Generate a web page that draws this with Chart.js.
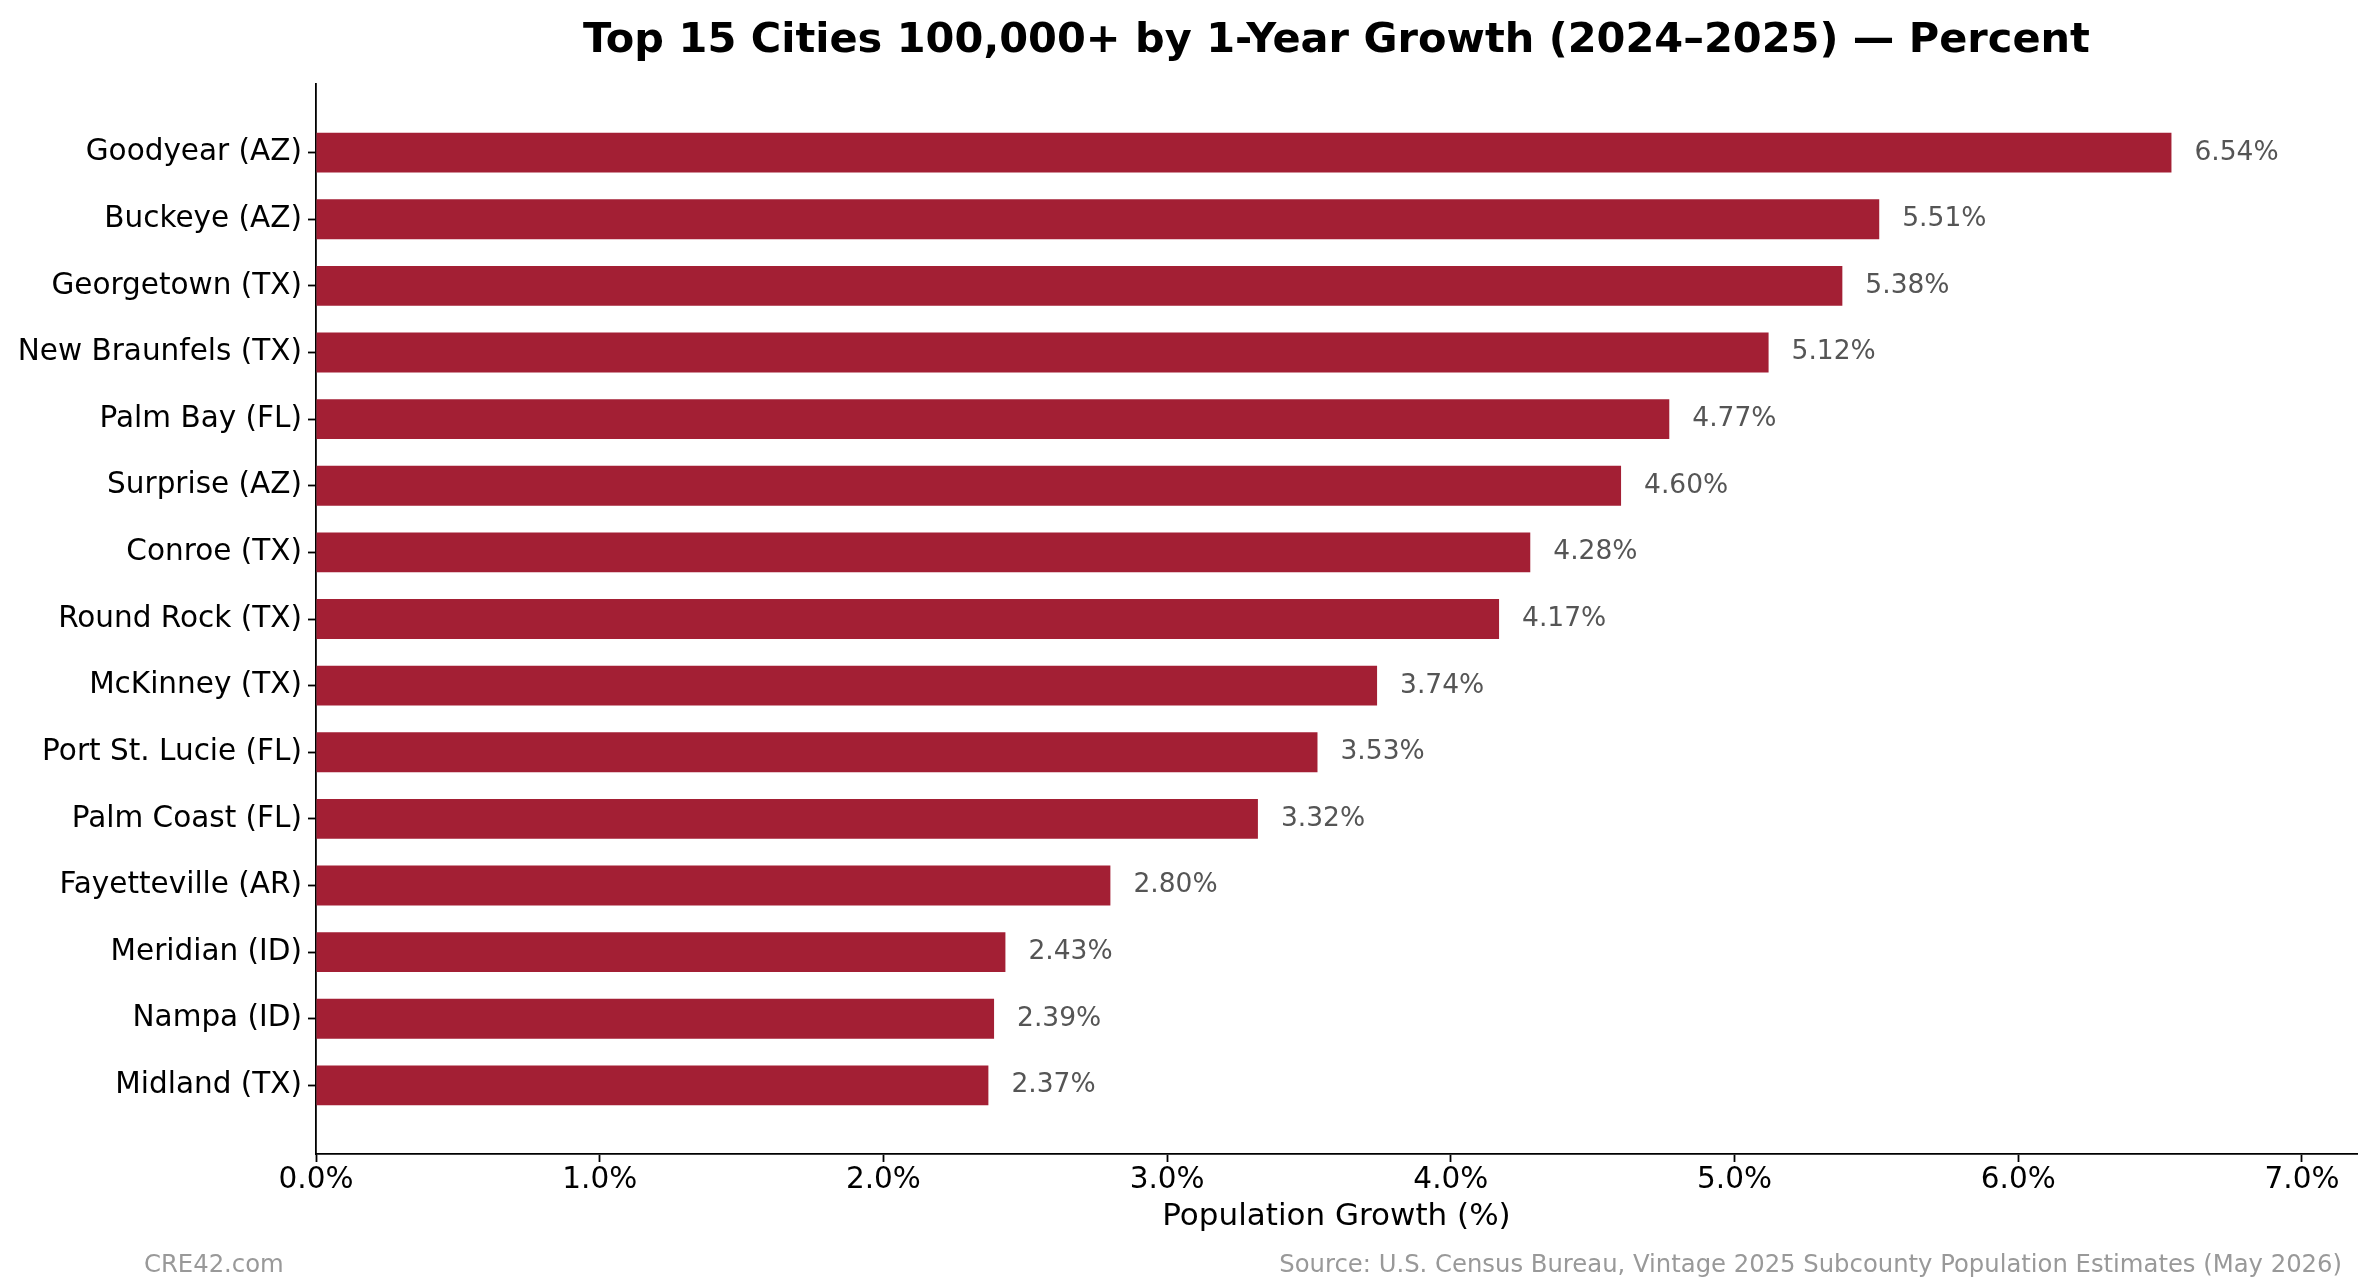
<!DOCTYPE html>
<html>
<head>
<meta charset="utf-8">
<script src="https://cdn.jsdelivr.net/npm/chart.js@4.4.1/dist/chart.umd.min.js"></script>
<style>
	html, body { margin: 0; padding: 0; background: #fff; }
	canvas { display: block; }
</style>
</head>
<body>
<canvas id="myChart" width="2375" height="1287"></canvas>
<script>
const cities = ["Goodyear (AZ)", "Buckeye (AZ)", "Georgetown (TX)", "New Braunfels (TX)", "Palm Bay (FL)", "Surprise (AZ)", "Conroe (TX)", "Round Rock (TX)", "McKinney (TX)", "Port St. Lucie (FL)", "Palm Coast (FL)", "Fayetteville (AR)", "Meridian (ID)", "Nampa (ID)", "Midland (TX)"];
const growth = [6.54, 5.51, 5.38, 5.12, 4.77, 4.6, 4.28, 4.17, 3.74, 3.53, 3.32, 2.8, 2.43, 2.39, 2.37];
const xTickValues = [0, 1, 2, 3, 4, 5, 6, 7];

const titleText = "Top 15 Cities 100,000+ by 1-Year Growth (2024–2025) — Percent";
const xTitle = "Population Growth (%)";
const brand = "CRE42.com";
const source = "Source: U.S. Census Bureau, Vintage 2025 Subcounty Population Estimates (May 2026)";

const FONT = "'DejaVu Sans', sans-serif";

// titles, footer and value labels
const annotate = {
	id: "annotate",
	afterDraw(chart) {
		const ctx = chart.ctx;
		const area = chart.chartArea;
		const mid = (area.left + area.right) / 2;
		ctx.save();
		ctx.textBaseline = "alphabetic";

		ctx.fillStyle = "#000";
		ctx.textAlign = "center";
		ctx.font = "bold 41.5px " + FONT;
		ctx.fillText(titleText, mid, 52);

		ctx.font = "31px " + FONT;
		ctx.fillText(xTitle, mid, 1225);

		ctx.fillStyle = "#999";
		ctx.font = "24.3px " + FONT;
		ctx.textAlign = "left";
		ctx.fillText(brand, 144, 1272);
		ctx.textAlign = "right";
		ctx.fillText(source, 2342, 1272);

		ctx.fillStyle = "#555";
		ctx.font = "26.5px " + FONT;
		ctx.textAlign = "left";
		ctx.textBaseline = "middle";
		chart.getDatasetMeta(0).data.forEach((bar, i) => {
			ctx.fillText(growth[i].toFixed(2) + "%", bar.x + 23, bar.y);
		});
		ctx.restore();
	},
};

const config = {
	type: "bar",
	data: {
		datasets: [
			{
				label: "Growth",
				data: growth.map((v, i) => ({ x: v, y: i })),
				backgroundColor: "#A31F34",
				borderWidth: 0,
				barPercentage: 0.6,
				categoryPercentage: 1.0,
			},
		],
	},
	options: {
		indexAxis: "y",
		responsive: false,
		devicePixelRatio: 1,
		animation: false,
		layout: {
			padding: { top: 84, right: 18, bottom: 0, left: 0 },
		},
		plugins: {
			legend: { display: false },
			tooltip: { enabled: false },
		},
		scales: {
			x: {
				type: "linear",
				position: "bottom",
				min: 0,
				max: 7.194,
				afterFit(scale) {
					scale.height = 133;
				},
				afterBuildTicks(scale) {
					scale.ticks = xTickValues.map((v) => ({ value: v }));
				},
				ticks: {
					callback: (v) => v.toFixed(1) + "%",
					color: "#000",
					font: { family: FONT, size: 29.5 },
					padding: 1,
					maxRotation: 0,
				},
				grid: {
					display: true,
					drawOnChartArea: false,
					tickLength: 8,
					tickWidth: 1.8,
					tickColor: "#000",
				},
				border: { display: true, color: "#000", width: 1.8 },
			},
			y: {
				type: "linear",
				reverse: true,
				offset: false,
				min: -1.03,
				max: 15.03,
				afterFit(scale) {
					scale.width = 316;
				},
				afterBuildTicks(scale) {
					scale.ticks = cities.map((c, i) => ({ value: i }));
				},
				ticks: {
					callback: (v) => cities[v],
					color: "#000",
					font: { family: FONT, size: 29.5 },
					padding: 6,
				},
				grid: {
					display: true,
					offset: false,
					drawOnChartArea: false,
					tickLength: 8,
					tickWidth: 1.8,
					tickColor: "#000",
				},
				border: { display: true, color: "#000", width: 1.8 },
			},
		},
	},
	plugins: [annotate],
};

const myChart = new Chart(document.getElementById("myChart"), config);
</script>
</body>
</html>
